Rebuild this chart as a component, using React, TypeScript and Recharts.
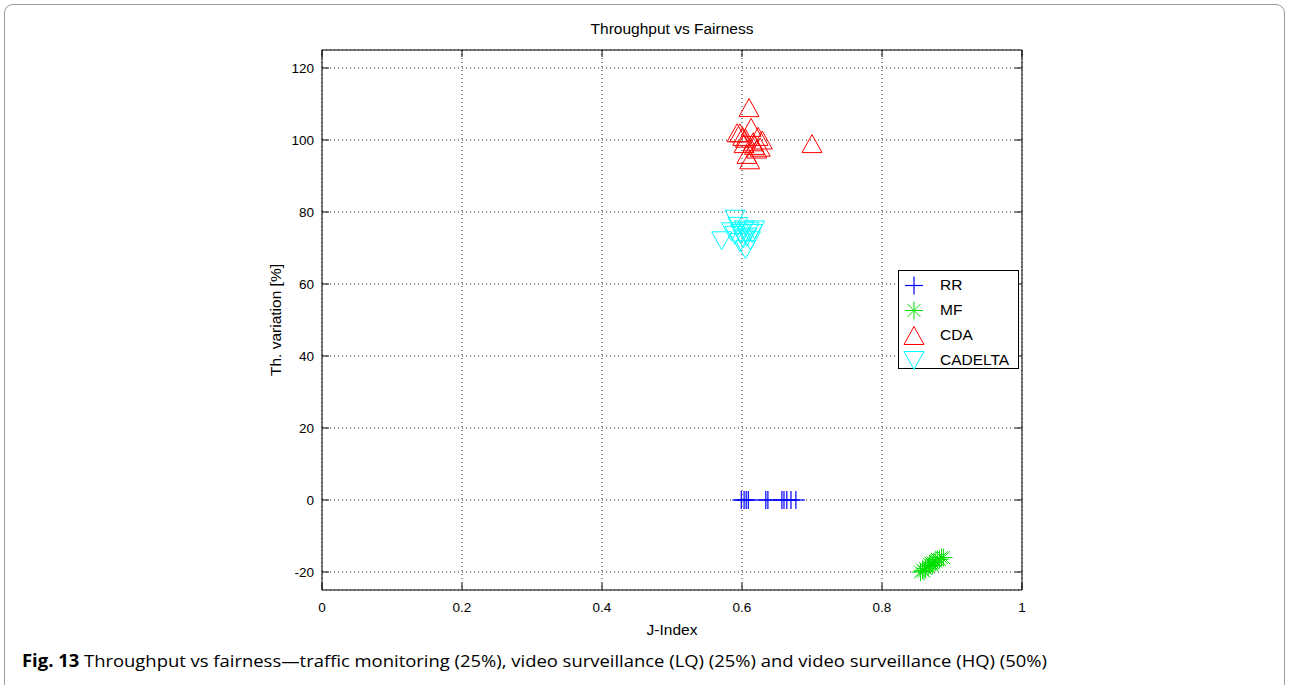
import React from "react";
import {
  ScatterChart,
  Scatter,
  XAxis,
  YAxis,
  CartesianGrid,
  ReferenceArea,
  Label,
  Legend,
} from "recharts";

// ---- data ----
const rrJIndex = [0.599, 0.603, 0.606, 0.609, 0.634, 0.637, 0.657, 0.66, 0.664, 0.67, 0.677];
const rrThVar = [0, 0, 0, 0, 0, 0, 0, 0, 0, 0, 0];

const mfJIndex = [0.855, 0.858, 0.86, 0.862, 0.866, 0.868, 0.87, 0.872, 0.873, 0.876, 0.879, 0.882, 0.885, 0.888];
const mfThVar = [-20, -19.5, -19.8, -19, -18.5, -18, -17.5, -18.2, -17.5, -17, -16.5, -16.5, -16, -16];

const cdaJIndex = [0.61, 0.7, 0.613, 0.593, 0.597, 0.601, 0.605, 0.616, 0.623, 0.629, 0.626, 0.621, 0.607, 0.611, 0.603, 0.618];
const cdaThVar = [109, 99, 103.5, 102, 102, 101, 100.5, 99.5, 101, 100, 98, 97.5, 96, 94.5, 99, 98.5];

const cadeltaJIndex = [0.571, 0.59, 0.594, 0.585, 0.598, 0.603, 0.61, 0.615, 0.607, 0.597, 0.602, 0.605, 0.612, 0.59, 0.618];
const cadeltaThVar = [72, 78, 76, 74.5, 74, 75, 74.5, 74, 73, 71.5, 72.5, 69.5, 72, 73.5, 75];

const xTicks = [0, 0.2, 0.4, 0.6, 0.8, 1];
const yTicks = [-20, 0, 20, 40, 60, 80, 100, 120];

const toPoints = (xs: number[], ys: number[]) => xs.map((x, i) => ({ x, y: ys[i] }));

// ---- layout ----
const W = 1290;
const H = 685;
const PL = 322;
const PR = 1022;
const PT = 50;
const PB = 590;
const TICK_IN = 7;
const FONT = "'Liberation Sans', Arial, Helvetica, sans-serif";

type MarkerKind = "plus" | "star" | "up" | "down";

function Marker({ kind, cx, cy, color }: { kind: MarkerKind; cx: number; cy: number; color: string }) {
  if (kind === "plus") {
    return (
      <g stroke={color} strokeWidth={1.2}>
        <line x1={cx - 9} y1={cy} x2={cx + 9} y2={cy} />
        <line x1={cx} y1={cy - 9} x2={cx} y2={cy + 9} />
      </g>
    );
  }
  if (kind === "star") {
    const r = 9;
    const d = r * 0.707;
    return (
      <g stroke={color} strokeWidth={1}>
        <line x1={cx - r} y1={cy} x2={cx + r} y2={cy} />
        <line x1={cx} y1={cy - r} x2={cx} y2={cy + r} />
        <line x1={cx - d} y1={cy - d} x2={cx + d} y2={cy + d} />
        <line x1={cx - d} y1={cy + d} x2={cx + d} y2={cy - d} />
      </g>
    );
  }
  if (kind === "up") {
    return (
      <polygon
        points={`${cx},${cy - 9} ${cx - 10},${cy + 9} ${cx + 10},${cy + 9}`}
        fill="none"
        stroke={color}
        strokeWidth={1}
      />
    );
  }
  return (
    <polygon
      points={`${cx - 10},${cy - 9} ${cx + 10},${cy - 9} ${cx},${cy + 9}`}
      fill="none"
      stroke={color}
      strokeWidth={1}
    />
  );
}

const series = [
  { name: "RR", color: "#0000ff", kind: "plus" as MarkerKind, data: toPoints(rrJIndex, rrThVar) },
  { name: "MF", color: "#00e000", kind: "star" as MarkerKind, data: toPoints(mfJIndex, mfThVar) },
  { name: "CDA", color: "#ff0000", kind: "up" as MarkerKind, data: toPoints(cdaJIndex, cdaThVar) },
  { name: "CADELTA", color: "#00ffff", kind: "down" as MarkerKind, data: toPoints(cadeltaJIndex, cadeltaThVar) },
];

function XTick(props: any) {
  const c = props.payload.coordinate;
  return (
    <g>
      <line x1={c} y1={PB} x2={c} y2={PB - TICK_IN} stroke="#000" />
      <line x1={c} y1={PT} x2={c} y2={PT + TICK_IN} stroke="#000" />
      <text x={c} y={PB + 17} textAnchor="middle" dominantBaseline="central" fontSize={13.5} fontFamily={FONT} fill="#000">
        {String(props.payload.value)}
      </text>
    </g>
  );
}

function YTick(props: any) {
  const c = props.payload.coordinate;
  return (
    <g>
      <line x1={PL} y1={c} x2={PL + TICK_IN} y2={c} stroke="#000" />
      <line x1={PR} y1={c} x2={PR - TICK_IN} y2={c} stroke="#000" />
      <text x={PL - 8} y={c} textAnchor="end" dominantBaseline="central" fontSize={13.5} fontFamily={FONT} fill="#000">
        {String(props.payload.value)}
      </text>
    </g>
  );
}

function LegendBox() {
  return (
    <div
      style={{
        border: "1px solid #000",
        background: "#fff",
        width: 119,
        height: 97,
        boxSizing: "content-box",
        fontFamily: FONT,
        fontSize: 15.5,
        position: "relative",
      }}
    >
      {series.map((s, i) => (
        <div key={s.name} style={{ position: "absolute", left: 0, top: 2 + i * 25, height: 25, width: 119 }}>
          <svg width={30} height={25} style={{ position: "absolute", left: 0, top: 0 }}>
            <Marker kind={s.kind} cx={15} cy={12.5} color={s.color} />
          </svg>
          <span style={{ position: "absolute", left: 41, top: 3, lineHeight: "18px", color: "#000" }}>{s.name}</span>
        </div>
      ))}
    </div>
  );
}

export default function App() {
  return (
    <div style={{ position: "absolute", left: 0, top: 0, width: W, height: H, background: "#fff", overflow: "hidden" }}>
      <div
        style={{
          position: "absolute",
          left: 4,
          top: 4,
          width: 1281,
          height: 720,
          border: "1px solid #9a9a9a",
          borderRadius: 9,
          boxSizing: "border-box",
        }}
      />
      <div
        style={{
          position: "absolute",
          left: 0,
          top: 19,
          width: W,
          textAlign: "center",
          fontFamily: FONT,
          fontSize: 15.5,
          lineHeight: "20px",
          paddingLeft: 54,
          boxSizing: "border-box",
        }}
      >
        Throughput vs Fairness
      </div>
      <div style={{ position: "absolute", left: 0, top: 0 }}>
        <ScatterChart width={W} height={H} margin={{ top: PT, right: W - PR, bottom: 45, left: PL - 60 }}>
          <CartesianGrid stroke="#222" strokeDasharray="1 3" strokeWidth={1} />
          <XAxis
            type="number"
            dataKey="x"
            domain={[0, 1]}
            ticks={xTicks}
            height={50}
            axisLine={false}
            tickLine={false}
            tick={<XTick />}
            interval={0}
          >
            <Label
              content={(p: any) => (
                <text
                  x={p.viewBox.x + p.viewBox.width / 2}
                  y={p.viewBox.y + 39}
                  textAnchor="middle"
                  dominantBaseline="central"
                  fontSize={15.5}
                  fontFamily={FONT}
                  fill="#000"
                >
                  J-Index
                </text>
              )}
            />
          </XAxis>
          <YAxis
            type="number"
            dataKey="y"
            domain={[-25, 125]}
            ticks={yTicks}
            width={60}
            axisLine={false}
            tickLine={false}
            tick={<YTick />}
            interval={0}
          >
            <Label
              content={(p: any) => {
                const cx = p.viewBox.x + 13;
                const cy = p.viewBox.y + p.viewBox.height / 2;
                return (
                  <text
                    x={cx}
                    y={cy}
                    transform={`rotate(-90 ${cx} ${cy})`}
                    textAnchor="middle"
                    dominantBaseline="central"
                    fontSize={15.5}
                    fontFamily={FONT}
                    fill="#000"
                  >
                    Th. variation [%]
                  </text>
                );
              }}
            />
          </YAxis>
          <ReferenceArea x1={0} x2={1} y1={-25} y2={125} fill="none" stroke="#000" strokeWidth={1} ifOverflow="visible" />
          {series.map((s) => (
            <Scatter
              key={s.name}
              name={s.name}
              data={s.data}
              isAnimationActive={false}
              shape={(p: any) => <Marker kind={s.kind} cx={p.cx} cy={p.cy} color={s.color} />}
            />
          ))}
          <Legend
            layout="vertical"
            align="center"
            verticalAlign="middle"
            wrapperStyle={{ left: 898, top: 270, width: 121, height: 99 }}
            content={() => <LegendBox />}
          />
        </ScatterChart>
      </div>
      <svg style={{ position: "absolute", left: 0, top: 645 }} width={W} height={35}>
        <text
          x={22}
          y={22}
          fontSize={17}
          fontFamily="'Open Sans', 'Noto Sans', sans-serif"
          fill="#000"
          textLength={1025}
          lengthAdjust="spacingAndGlyphs"
        >
          <tspan fontWeight="bold">Fig. 13</tspan>
          <tspan> Throughput vs fairness—traffic monitoring (25%), video surveillance (LQ) (25%) and video surveillance (HQ) (50%)</tspan>
        </text>
      </svg>
    </div>
  );
}
